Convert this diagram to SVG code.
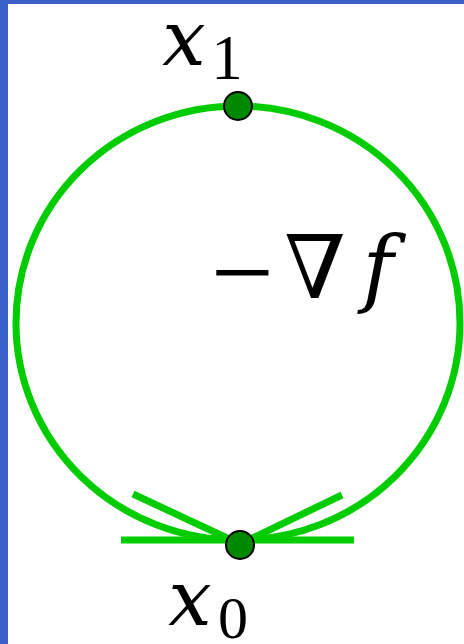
<svg xmlns="http://www.w3.org/2000/svg" width="464" height="644" viewBox="0 0 464 644">
<style>
.g{fill:none;stroke:#00cc00;stroke-width:7;stroke-linecap:butt}
.dot{fill:#008800;stroke:#000;stroke-width:2}
.mi{font-family:"DejaVu Serif",serif;font-style:italic;fill:#000}
.rm{font-family:"Liberation Serif",serif;fill:#000}
</style>
<rect x="0" y="0" width="464" height="644" fill="#ffffff"/>
<rect x="0" y="0" width="8" height="644" fill="#3a5fc9"/>
<rect x="0" y="0" width="464" height="4" fill="#3a5fc9"/>
<g id="connectors">
<path class="g" d="M238,540 A222,217 0 0 1 238,106 A222,217 0 0 1 238,540 Z"/>
<line class="g" x1="121" y1="540" x2="354" y2="540"/>
<line class="g" x1="133" y1="494" x2="240" y2="544"/>
<line class="g" x1="342" y1="495" x2="240" y2="544"/>
</g>
<g id="label-grad">
<text class="rm" x="242" y="310" font-size="112" text-anchor="middle">−</text>
<text x="315" y="298" font-family="DejaVu Serif,serif" font-size="88" text-anchor="middle" fill="#000">∇</text>
<text class="mi" x="378" y="296" font-size="84" text-anchor="middle">f</text>
</g>
<g id="node-x1">
<circle class="dot" cx="238" cy="106" r="14"/>
<text class="mi" x="184" y="65" font-size="77" text-anchor="middle">x</text>
<text class="rm" x="227" y="79" font-size="63" text-anchor="middle">1</text>
</g>
<g id="node-x0">
<circle class="dot" cx="240" cy="545" r="14"/>
<text class="mi" x="190" y="625" font-size="77" text-anchor="middle">x</text>
<text class="rm" x="233" y="638" font-size="60" text-anchor="middle">0</text>
</g>
</svg>
